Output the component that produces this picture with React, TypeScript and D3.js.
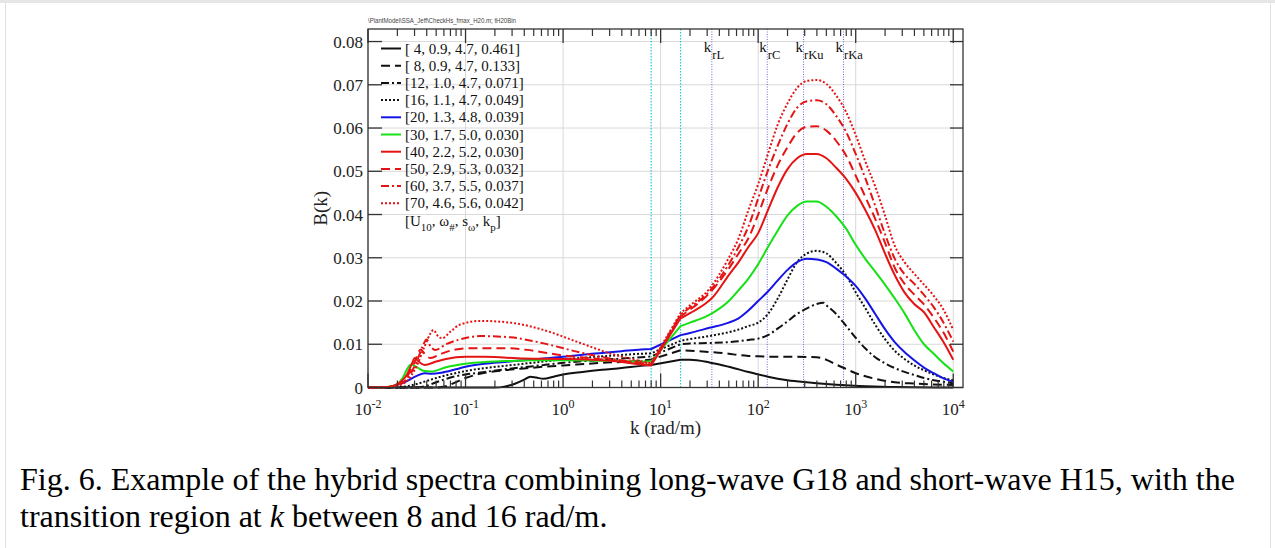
import React from 'react';
import * as d3 from 'd3';

// ---------------- data ----------------
const xMajorTicks = [1e-2, 1e-1, 1, 1e1, 1e2, 1e3, 1e4];
const xTickExponents = ['-2', '-1', '0', '1', '2', '3', '4'];
const yTicks = [0, 0.01, 0.02, 0.03, 0.04, 0.05, 0.06, 0.07, 0.08];
const yTickLabels = ['0', '0.01', '0.02', '0.03', '0.04', '0.05', '0.06', '0.07', '0.08'];
const kTransition = [8, 16];
const kRadar = [33.5, 124, 292, 750];
const radarBands = ['rL', 'rC', 'rKu', 'rKa'];

const legendLabels = [
  '[ 4, 0.9, 4.7, 0.461]',
  '[ 8, 0.9, 4.7, 0.133]',
  '[12, 1.0, 4.7, 0.071]',
  '[16, 1.1, 4.7, 0.049]',
  '[20, 1.3, 4.8, 0.039]',
  '[30, 1.7, 5.0, 0.030]',
  '[40, 2.2, 5.2, 0.030]',
  '[50, 2.9, 5.3, 0.032]',
  '[60, 3.7, 5.5, 0.037]',
  '[70, 4.6, 5.6, 0.042]',
];

type P = [number, number];

const sU04: P[] = [[0.01, 0], [0.2, 0], [0.25, 0.0002], [0.316, 0.0008], [0.4, 0.0018], [0.46, 0.0025], [0.53, 0.0023], [0.63, 0.002], [0.8, 0.0025], [1, 0.003], [1.58, 0.0036], [2.51, 0.0041], [3.98, 0.0045], [6.31, 0.005], [8, 0.0052],
  [16, 0.0064], [20, 0.0064], [31.6, 0.0058], [50, 0.0048], [79.4, 0.0036], [126, 0.0025], [200, 0.0017], [316, 0.0012], [501, 0.0008], [794, 0.0005], [1259, 0.0003], [2512, 0.0001], [10000, 0]];

const sU08: P[] = [[0.01, 0], [0.05, 0], [0.063, 0.0003], [0.079, 0.0012], [0.1, 0.0022], [0.126, 0.0029], [0.158, 0.0034], [0.251, 0.004], [0.398, 0.0044], [0.631, 0.0048], [1, 0.0051], [2.51, 0.0057], [6.31, 0.0062], [8, 0.0065],
  [16, 0.0086], [20, 0.0085], [31.6, 0.0082], [50, 0.0078], [63, 0.0075], [79.4, 0.0073], [100, 0.0072], [158, 0.0071], [251, 0.0071], [398, 0.007], [501, 0.0064], [631, 0.0053], [794, 0.0043], [1000, 0.0033], [1259, 0.0026], [1585, 0.002], [2512, 0.0012], [3981, 0.0009], [6310, 0.0007], [10000, 0.0006]];

const sU12: P[] = [[0.01, 0], [0.0316, 0], [0.0398, 0.0004], [0.0501, 0.0012], [0.0631, 0.002], [0.0794, 0.0026], [0.1, 0.003], [0.158, 0.0036], [0.251, 0.0042], [0.398, 0.0047], [0.631, 0.0052], [1, 0.0057], [2.51, 0.0064], [6.31, 0.007], [8, 0.0072],
  [16, 0.01], [20, 0.0102], [31.6, 0.0103], [50, 0.0105], [63, 0.0107], [79.4, 0.011], [100, 0.0113], [126, 0.0121], [158, 0.0136], [200, 0.0153], [251, 0.017], [316, 0.0183], [398, 0.0193], [468, 0.0196], [501, 0.019], [631, 0.017], [794, 0.0143], [1000, 0.0115], [1259, 0.009], [1585, 0.007], [1995, 0.0056], [2512, 0.0045], [3162, 0.0036], [3981, 0.0029], [5012, 0.0022], [6310, 0.0017], [7943, 0.0013], [10000, 0.001]];

const sU16: P[] = [[0.01, 0], [0.02, 0], [0.0251, 0.0003], [0.0316, 0.0008], [0.0398, 0.0015], [0.0501, 0.0022], [0.0631, 0.0028], [0.1, 0.0038], [0.158, 0.0045], [0.251, 0.005], [0.398, 0.0055], [0.631, 0.006], [1, 0.0065], [2.51, 0.0072], [6.31, 0.0078], [8, 0.0079],
  [16, 0.0108], [20, 0.0112], [31.6, 0.0119], [50, 0.0128], [63, 0.0134], [79.4, 0.0142], [100, 0.015], [126, 0.017], [158, 0.0205], [200, 0.025], [251, 0.029], [316, 0.031], [398, 0.0316], [501, 0.031], [631, 0.0288], [794, 0.026], [1000, 0.022], [1259, 0.0183], [1585, 0.0145], [1995, 0.0112], [2512, 0.0085], [3162, 0.0066], [3981, 0.0051], [5012, 0.004], [6310, 0.003], [7943, 0.0022], [10000, 0.0017]];

const sU20: P[] = [[0.01, 0], [0.0158, 0.0001], [0.02, 0.0006], [0.0251, 0.0015], [0.0316, 0.0027], [0.038, 0.0033], [0.0447, 0.0032], [0.0562, 0.0034], [0.0794, 0.0042], [0.1, 0.0048], [0.158, 0.0055], [0.251, 0.0059], [0.398, 0.0063], [0.631, 0.0067], [1, 0.0071], [1.58, 0.0076], [2.51, 0.008], [3.98, 0.0084], [6.31, 0.0088], [8, 0.0089],
  [16, 0.0121], [20, 0.0126], [31.6, 0.0138], [50, 0.015], [63, 0.016], [79.4, 0.0178], [100, 0.02], [126, 0.0222], [158, 0.0247], [200, 0.0272], [251, 0.029], [316, 0.0298], [398, 0.0296], [501, 0.029], [631, 0.0275], [794, 0.0257], [1000, 0.0235], [1259, 0.0205], [1585, 0.017], [1995, 0.0135], [2512, 0.0105], [3162, 0.0082], [3981, 0.0063], [5012, 0.0046], [6310, 0.0033], [7943, 0.0021], [10000, 0.0013]];

const sU30: P[] = [[0.01, 0], [0.0158, 0.0001], [0.02, 0.0008], [0.0224, 0.002], [0.0251, 0.0042], [0.0275, 0.0053], [0.0316, 0.0047], [0.038, 0.0038], [0.0447, 0.0037], [0.0631, 0.0047], [0.1, 0.0055], [0.158, 0.0059], [0.251, 0.0061], [0.5, 0.0063], [1, 0.0063], [2.51, 0.0062], [6.31, 0.006], [8, 0.006],
  [16, 0.0142], [20, 0.015], [31.6, 0.0168], [50, 0.02], [63, 0.0225], [79.4, 0.0252], [100, 0.0285], [126, 0.0325], [158, 0.0362], [200, 0.0398], [251, 0.042], [316, 0.043], [398, 0.043], [501, 0.0418], [631, 0.0396], [794, 0.0368], [1000, 0.033], [1259, 0.0297], [1585, 0.0268], [1995, 0.0238], [2512, 0.0206], [3162, 0.0172], [3981, 0.0133], [5012, 0.01], [6310, 0.0078], [7943, 0.0056], [10000, 0.0037]];

const sU40: P[] = [[0.01, 0], [0.0158, 0.0001], [0.02, 0.0008], [0.0251, 0.003], [0.0282, 0.0055], [0.0302, 0.0068], [0.0331, 0.006], [0.038, 0.0052], [0.0501, 0.006], [0.0631, 0.0066], [0.1, 0.0071], [0.158, 0.0071], [0.398, 0.0067], [1, 0.0066], [2.04, 0.0064], [4, 0.0059], [6.31, 0.0053], [8, 0.0051],
  [16, 0.016], [20, 0.0172], [34.7, 0.021], [50, 0.026], [63, 0.029], [79.4, 0.0325], [100, 0.0357], [126, 0.041], [158, 0.0462], [200, 0.0505], [251, 0.053], [316, 0.054], [398, 0.054], [501, 0.053], [631, 0.0508], [794, 0.0483], [1000, 0.045], [1259, 0.041], [1585, 0.0364], [1995, 0.031], [2512, 0.026], [3162, 0.022], [3981, 0.0193], [5012, 0.0174], [6310, 0.014], [7943, 0.0105], [10000, 0.0064]];

const sU50: P[] = [[0.01, 0], [0.0158, 0.0001], [0.02, 0.0006], [0.0251, 0.0025], [0.0302, 0.006], [0.0347, 0.0088], [0.038, 0.0078], [0.0437, 0.0068], [0.0562, 0.0078], [0.0794, 0.0088], [0.12, 0.0091], [0.251, 0.0091], [0.427, 0.0087], [0.933, 0.0075], [2.04, 0.0067], [4.47, 0.006], [8, 0.0054],
  [16, 0.0165], [20, 0.018], [31.6, 0.0218], [50, 0.0275], [63, 0.031], [79.4, 0.0345], [100, 0.04], [126, 0.0461], [158, 0.0513], [200, 0.0556], [251, 0.0589], [316, 0.0603], [398, 0.0604], [501, 0.0594], [631, 0.057], [794, 0.0537], [1000, 0.049], [1259, 0.044], [1585, 0.039], [1995, 0.0335], [2512, 0.0277], [3162, 0.024], [3981, 0.0215], [5012, 0.0192], [6310, 0.0162], [7943, 0.0127], [10000, 0.0083]];

const sU60: P[] = [[0.01, 0], [0.0158, 0.0001], [0.02, 0.0005], [0.0251, 0.002], [0.0316, 0.006], [0.0363, 0.0095], [0.0398, 0.0111], [0.0437, 0.0095], [0.049, 0.0087], [0.0631, 0.01], [0.087, 0.0111], [0.141, 0.0119], [0.288, 0.0116], [0.631, 0.0102], [1.38, 0.0083], [3.02, 0.0067], [8, 0.0055],
  [16, 0.0168], [20, 0.0185], [31.6, 0.0222], [50, 0.0285], [63, 0.0325], [79.4, 0.0372], [100, 0.0437], [126, 0.0502], [158, 0.0558], [200, 0.061], [251, 0.0647], [316, 0.0662], [398, 0.0664], [501, 0.0655], [631, 0.0628], [794, 0.0592], [1000, 0.054], [1259, 0.0483], [1585, 0.042], [1995, 0.0355], [2512, 0.0298], [3162, 0.0262], [3981, 0.024], [5012, 0.0214], [6310, 0.0186], [7943, 0.015], [10000, 0.0106]];

const sU70: P[] = [[0.01, 0], [0.0158, 0.0001], [0.02, 0.0004], [0.0251, 0.0015], [0.0316, 0.005], [0.038, 0.0095], [0.0437, 0.0125], [0.0468, 0.0133], [0.0525, 0.0118], [0.0575, 0.0114], [0.0708, 0.013], [0.087, 0.0145], [0.141, 0.0154], [0.288, 0.015], [0.631, 0.0133], [1.38, 0.0106], [3.02, 0.0079], [8, 0.0056],
  [16, 0.0172], [20, 0.019], [31.6, 0.0228], [50, 0.03], [63, 0.0345], [79.4, 0.041], [100, 0.047], [126, 0.054], [158, 0.0607], [200, 0.0657], [251, 0.0693], [316, 0.0709], [398, 0.0711], [501, 0.0702], [631, 0.0675], [794, 0.0638], [1000, 0.0584], [1259, 0.0522], [1585, 0.0465], [1995, 0.0398], [2512, 0.0328], [3162, 0.029], [3981, 0.0263], [5012, 0.0238], [6310, 0.0212], [7943, 0.018], [10000, 0.0133]];

const seriesData = [sU04, sU08, sU12, sU16, sU20, sU30, sU40, sU50, sU60, sU70];

// ---------------- styles ----------------
const BLACK = '#111111', BLUE = '#1414e6', GREEN = '#16e016', RED = '#e51414';
const DASH = '9,5', DASHDOT = '8,3,2,3', DOT = '2,2';
const seriesColor = [BLACK, BLACK, BLACK, BLACK, BLUE, GREEN, RED, RED, RED, RED];
const seriesDash = ['', DASH, DASHDOT, DOT, '', '', '', DASH, DASHDOT, DOT];

const SERIF = '"Liberation Serif", "Times New Roman", serif';

export default function App() {
  const left = 368, right = 963, top = 29, bottom = 387.5;
  const x = d3.scaleLog().domain([0.01, Math.pow(10, 4.1)]).range([left, right]);
  const y = d3.scaleLinear().domain([0, 0.0829]).range([bottom, top]);

  const lineGen = d3.line<P>().x(d => x(d[0])).y(d => y(d[1])).curve(d3.curveMonotoneX);
  const pathFor = (data: P[]) => {
    const lo = data.filter(d => d[0] <= kTransition[0]);
    const hi = data.filter(d => d[0] >= kTransition[1]);
    return (lineGen(lo) || '') + (lineGen(hi) || '').replace(/^M/, 'L');
  };

  const minorTicks: number[] = [];
  for (let n = -2; n <= 3; n++) for (let m = 2; m <= 9; m++) minorTicks.push(m * Math.pow(10, n));

  const axisColor = '#333';
  const gridColor = '#d9d9d9';

  return (
    <svg width={1275} height={548} style={{ position: 'absolute', left: 0, top: 0, background: '#fff' }}>
      {/* page frame */}
      <rect x={0} y={0} width={1275} height={3} fill="#e6e6e6" />
      <line x1={5.5} x2={5.5} y1={3} y2={548} stroke="#e2e2e2" />
      <line x1={1270.5} x2={1270.5} y1={3} y2={548} stroke="#e2e2e2" />

      {/* file path */}
      <text x={368} y={23} fontFamily="Arial, sans-serif" fontSize={6.5} fill="#444" textLength={148} lengthAdjust="spacingAndGlyphs">
        \PlantModel\SSA_Jeff\CheckHs_fmax_H20.m; tH20Bin
      </text>

      {/* grid */}
      {xMajorTicks.map((k, i) => (
        <line key={'gx' + i} x1={x(k)} x2={x(k)} y1={top} y2={bottom} stroke={gridColor} strokeWidth={1} />
      ))}
      {yTicks.map((v, i) => (
        <line key={'gy' + i} x1={left} x2={x(1e4)} y1={y(v)} y2={y(v)} stroke={gridColor} strokeWidth={1} />
      ))}

      {/* transition region lines */}
      {kTransition.map((k, i) => (
        <line key={'tr' + i} x1={x(k)} x2={x(k)} y1={top} y2={bottom} stroke="#22c8d8" strokeWidth={1.2} strokeDasharray="1.5,1.5" />
      ))}
      {/* radar Bragg lines */}
      {kRadar.map((k, i) => (
        <g key={'rb' + i}>
          <line x1={x(k)} x2={x(k)} y1={top} y2={bottom} stroke="#5a5ad8" strokeWidth={0.9} strokeDasharray="1,1.5" />
          <text x={x(k) - 0.5} y={51.5} fontFamily={SERIF} fontSize={15} textAnchor="end" fill="#111">k</text>
          <text x={x(k) + 0.5} y={59} fontFamily={SERIF} fontSize={12.5} fill="#111">{radarBands[i]}</text>
        </g>
      ))}

      {/* curves */}
      {seriesData.map((s, i) => (
        <path key={'s' + i} d={pathFor(s)} fill="none" stroke={seriesColor[i]} strokeWidth={2}
          strokeDasharray={seriesDash[i] || undefined} strokeLinejoin="round" />
      ))}

      {/* frame */}
      <rect x={left} y={top} width={right - left} height={bottom - top} fill="none" stroke={axisColor} strokeWidth={1.3} />

      {/* x ticks top & bottom */}
      {xMajorTicks.map((k, i) => (
        <g key={'xt' + i}>
          <line x1={x(k)} x2={x(k)} y1={top} y2={top + 14} stroke={axisColor} strokeWidth={1.3} />
          <line x1={x(k)} x2={x(k)} y1={bottom} y2={bottom - 14} stroke={axisColor} strokeWidth={1.3} />
          <text x={x(k)} y={415} fontFamily={SERIF} fontSize={17} textAnchor="middle" fill="#222">
            10<tspan dy={-7} fontSize={12}>{xTickExponents[i]}</tspan>
          </text>
        </g>
      ))}
      {minorTicks.map((k, i) => (
        <g key={'mt' + i}>
          <line x1={x(k)} x2={x(k)} y1={top} y2={top + 7} stroke={axisColor} strokeWidth={1.2} />
          <line x1={x(k)} x2={x(k)} y1={bottom} y2={bottom - 7} stroke={axisColor} strokeWidth={1.2} />
        </g>
      ))}

      {/* y ticks */}
      {yTicks.map((v, i) => (
        <g key={'yt' + i}>
          <line x1={left} x2={left + 14} y1={y(v)} y2={y(v)} stroke={axisColor} strokeWidth={1.3} />
          <line x1={right} x2={right - 13} y1={y(v)} y2={y(v)} stroke={axisColor} strokeWidth={1.3} />
          <text x={363} y={y(v) + 6} fontFamily={SERIF} fontSize={17} textAnchor="end" fill="#222">{yTickLabels[i]}</text>
        </g>
      ))}

      {/* axis titles */}
      <text x={(left + right) / 2} y={434} fontFamily={SERIF} fontSize={19} textAnchor="middle" fill="#222">k (rad/m)</text>
      <text transform={`translate(327, ${(top + bottom) / 2}) rotate(-90)`} fontFamily={SERIF} fontSize={19} textAnchor="middle" fill="#222">B(k)</text>

      {/* legend */}
      {legendLabels.map((lab, i) => {
        const cy = 48.5 + i * 17.2;
        return (
          <g key={'lg' + i}>
            <line x1={381} x2={401} y1={cy} y2={cy} stroke={seriesColor[i]} strokeWidth={2} strokeDasharray={seriesDash[i] || undefined} />
            <text x={405} y={cy + 5} fontFamily={SERIF} fontSize={15} fill="#111">{lab}</text>
          </g>
        );
      })}
      <text x={405} y={48.5 + 10 * 17.2 + 5.5} fontFamily={SERIF} fontSize={15} fill="#111">
        [U<tspan dy={5} fontSize={11}>10</tspan><tspan dy={-5}>, ω</tspan><tspan dy={5} fontSize={11}>#</tspan><tspan dy={-5}>, s</tspan><tspan dy={5} fontSize={11}>ω</tspan><tspan dy={-5}>, k</tspan><tspan dy={5} fontSize={11}>p</tspan><tspan dy={-5}>]</tspan>
      </text>

      {/* caption */}
      <text x={20} y={490} fontFamily={SERIF} fontSize={32} fill="#000">
        Fig. 6. Example of the hybrid spectra combining long-wave G18 and short-wave H15, with the
      </text>
      <text x={20} y={527} fontFamily={SERIF} fontSize={32} fill="#000">
        transition region at <tspan fontStyle="italic">k</tspan> between 8 and 16 rad/m.
      </text>
    </svg>
  );
}
